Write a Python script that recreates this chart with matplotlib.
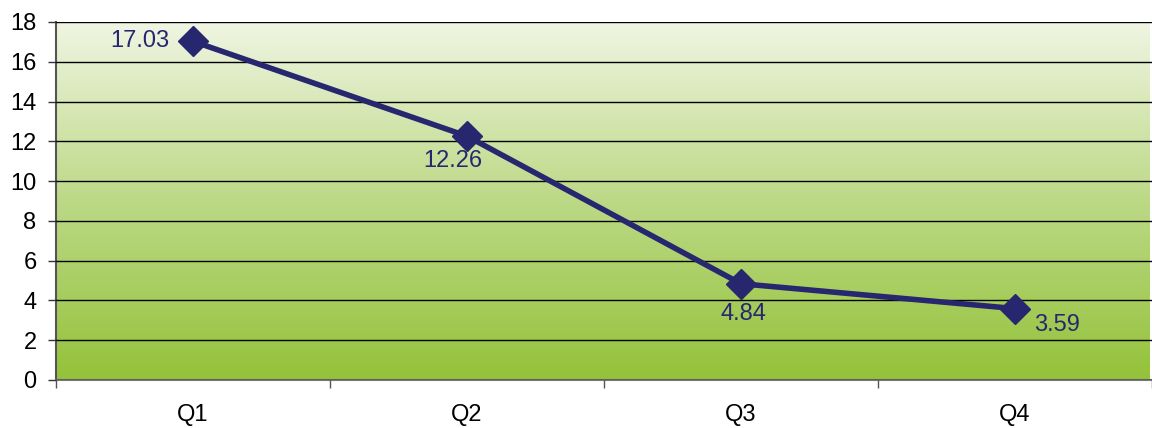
import numpy as np
import matplotlib
matplotlib.use("Agg")
import matplotlib.pyplot as plt
from matplotlib.colors import LinearSegmentedColormap

categories = ["Q1", "Q2", "Q3", "Q4"]
values = [17.03, 12.26, 4.84, 3.59]
label_texts = ["17.03", "12.26", "4.84", "3.59"]
yticks = [0, 2, 4, 6, 8, 10, 12, 14, 16, 18]

plt.rcParams['font.family'] = ['Liberation Sans', 'DejaVu Sans']

fig = plt.figure(figsize=(11.52, 4.28), dpi=100)
ax = fig.add_axes([56/1152, 48/428, 1096/1152, 358/428])

x = np.arange(len(categories))
xlim = (-0.5, 3.5 - 2/274)
ax.set_xlim(*xlim)
ax.set_ylim(0, 18)

# gradient background
cmap = LinearSegmentedColormap.from_list("g", ["#94c23a", "#bcd986", "#f0f5e2"])
grad = np.linspace(0, 1, 256).reshape(-1, 1)
ax.imshow(grad, cmap=cmap, origin="lower", aspect="auto",
          extent=(xlim[0], xlim[1], 0, 18), zorder=0)

ax.set_yticks(yticks)
ax.yaxis.grid(True, color="black", linewidth=1.0, zorder=1)
ax.set_axisbelow(False)

color = "#27276f"
ax.plot(x, values, color=color, linewidth=4.0, marker="D", markersize=15.5,
        zorder=3, solid_capstyle="round")

offsets = [(-17, 0, "right", "center"), (-10, -10, "center", "top"),
           (2, -14, "center", "top"), (14, -4, "left", "top")]
for xi, v, t, (dx, dy, ha, va) in zip(x, values, label_texts, offsets):
    ax.annotate(t, (xi, v), xytext=(dx, dy), textcoords="offset points",
                ha=ha, va=va, fontsize=17, color=color, zorder=4)

ax.set_xticks(x)
ax.set_xticklabels(categories, fontsize=17)
ax.set_xticks(np.arange(-0.5, 4, 1), minor=True)
ax.tick_params(axis="x", which="major", length=0, pad=17)
ax.tick_params(axis="x", which="minor", length=6, width=1, color="#555555", direction="out")
ax.tick_params(axis="y", length=6, width=1, color="#333333", direction="out", pad=8, labelsize=17)

for s in ["top", "right"]:
    ax.spines[s].set_visible(False)
ax.spines["left"].set_color("#555555")
ax.spines["left"].set_linewidth(1.5)
ax.spines["bottom"].set_color("#777777")
ax.spines["bottom"].set_linewidth(1.5)

fig.savefig("out.png", dpi=100)
